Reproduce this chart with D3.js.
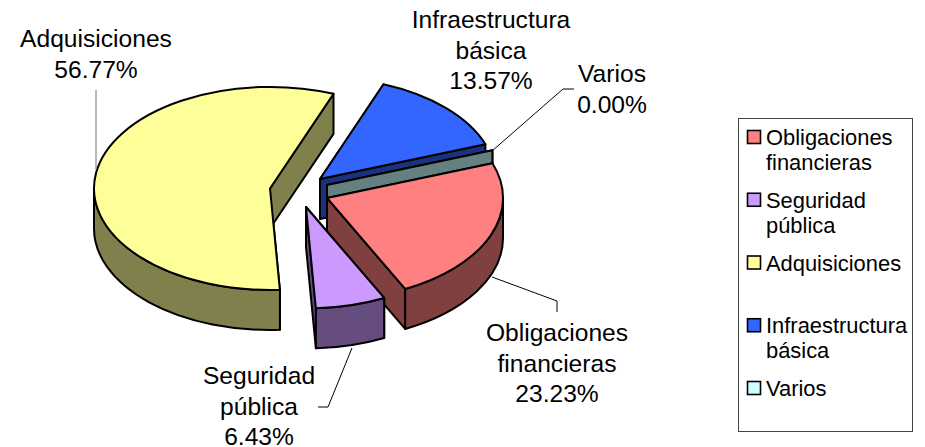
<!DOCTYPE html>
<html>
<head>
<meta charset="utf-8">
<style>
    html, body { margin: 0; padding: 0; background: #fff; }
    svg { display: block; }
    text { font-family: "Liberation Sans", Arial, sans-serif; fill: #000; }
</style>
</head>
<body>
<script src="https://d3js.org/d3.v7.min.js"></script>
<script>
var categories = ["Obligaciones financieras", "Seguridad pública", "Adquisiciones", "Infraestructura básica", "Varios"];
var values = [23.23, 6.43, 56.77, 13.57, 0.00];
var percentLabels = ["23.23%", "6.43%", "56.77%", "13.57%", "0.00%"];
var nameLines = [["Obligaciones", "financieras"], ["Seguridad", "pública"], ["Adquisiciones"], ["Infraestructura", "básica"], ["Varios"]];
var topColors = ["#FF8080", "#CC99FF", "#FFFF99", "#3366FF", "#CCFFFF"];
var wallColors = ["#804040", "#664D80", "#80804D", "#1A3380", "#668080"];

// layout
var w = 925, h = 447;
var rx = 176, ry = 101.5, depth = 40;
var startDeg = 70;
var centers = [[327, 198], [306, 207], [270, 188.5], [320, 179], [327, 185]];
var drawOrder = [2, 3, 4, 0, 1];
var labelPos = [[557, 341], [259, 384], [96, 47], [491, 28], [612, 82]];
var leaders = [
    [[492, 277], [557, 301], [557, 312]],
    [[352, 348], [328, 407], [318, 407]],
    [[96, 90], [96, 170]],
    [],
    [[492, 151], [563, 89], [574, 89]]
];
var leaderColors = ["#000", "#000", "#777", "#000", "#000"];

var svg = d3.select("body").append("svg")
    .attr("width", w)
    .attr("height", h);

var pie = d3.pie().sort(null)
    .startAngle(startDeg * Math.PI / 180)
    .endAngle((startDeg + 360) * Math.PI / 180);
var slices = pie(values);

// unit circle squashed to the ellipse by the group's transform
var arc = d3.arc().innerRadius(0).outerRadius(1);

function pt(i, a, dy) {
    return [centers[i][0] + rx * Math.sin(a), centers[i][1] - ry * Math.cos(a) + (dy || 0)];
}

function radialWall(i, a) {
    var c = centers[i], p = pt(i, a), q = pt(i, a, depth);
    return "M" + c + "L" + p + "L" + q + "L" + [c[0], c[1] + depth] + "Z";
}

function rimWall(i, a0, a1) {
    // only the front half of the rim shows
    var half = Math.PI, full = Math.PI * 2;
    var best = null;
    [-full, 0, full].forEach(function(k) {
        var s = Math.max(a0 + k, Math.PI / 2), e = Math.min(a1 + k, Math.PI * 1.5);
        if (e > s && (!best || e - s > best[1] - best[0])) best = [s, e];
    });
    if (!best) return null;
    var big = best[1] - best[0] > half ? 1 : 0;
    return "M" + pt(i, best[0]) +
        "A" + rx + " " + ry + " 0 " + big + " 1 " + pt(i, best[1]) +
        "L" + pt(i, best[1], depth) +
        "A" + rx + " " + ry + " 0 " + big + " 0 " + pt(i, best[0], depth) + "Z";
}

var plot = svg.append("g").attr("stroke", "#000").attr("stroke-width", 2).attr("stroke-linejoin", "round");

drawOrder.forEach(function(i) {
    var d = slices[i];
    var g = plot.append("g");
    g.append("path").attr("d", radialWall(i, d.startAngle)).attr("fill", wallColors[i]);
    g.append("path").attr("d", radialWall(i, d.endAngle)).attr("fill", wallColors[i]);
    var rim = rimWall(i, d.startAngle, d.endAngle);
    if (rim) g.append("path").attr("d", rim).attr("fill", wallColors[i]);
    if (values[i] > 0) {
        g.append("path")
            .attr("d", arc(d))
            .attr("transform", "translate(" + centers[i] + ") scale(" + rx + "," + ry + ")")
            .attr("vector-effect", "non-scaling-stroke")
            .attr("fill", topColors[i]);
    }
});

// leader lines
var line = d3.line();
leaders.forEach(function(l, i) {
    if (!l.length) return;
    svg.append("path")
        .attr("d", line(l))
        .attr("fill", "none")
        .attr("stroke", leaderColors[i])
        .attr("stroke-width", 1);
});

// data labels
var labelSize = 24.6, labelStep = 30.5;
categories.forEach(function(c, i) {
    var lines = nameLines[i].concat([percentLabels[i]]);
    var t = svg.append("text")
        .attr("text-anchor", "middle")
        .attr("font-size", labelSize);
    lines.forEach(function(s, k) {
        t.append("tspan")
            .attr("x", labelPos[i][0])
            .attr("y", labelPos[i][1] + k * labelStep)
            .text(s);
    });
});

// legend
var legend = svg.append("g");
legend.append("rect")
    .attr("x", 738.5).attr("y", 118.5)
    .attr("width", 174).attr("height", 313)
    .attr("fill", "#fff")
    .attr("stroke", "#444")
    .attr("stroke-width", 1);

var legendY = d3.scalePoint().domain(categories).range([137, 388]);
categories.forEach(function(c, i) {
    var y = legendY(c);
    legend.append("rect")
        .attr("x", 747.5).attr("y", y - 6.5)
        .attr("width", 13).attr("height", 13)
        .attr("fill", topColors[i])
        .attr("stroke", "#000")
        .attr("stroke-width", 1.6);
    nameLines[i].forEach(function(s, k) {
        legend.append("text")
            .attr("x", 766)
            .attr("y", y + 8 + k * 25)
            .attr("font-size", 21.9)
            .text(s);
    });
});
</script>
</body>
</html>
